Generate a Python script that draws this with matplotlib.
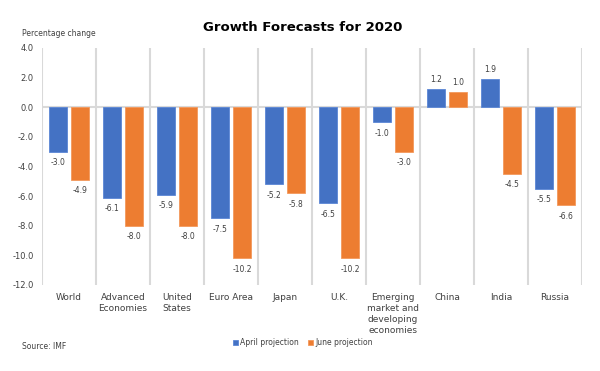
import matplotlib; matplotlib.use("Agg")
import matplotlib.pyplot as plt
import numpy as np

categories = ["World", "Advanced\nEconomies", "United\nStates", "Euro Area", "Japan",
              "U.K.", "Emerging\nmarket and\ndeveloping\neconomies", "China", "India", "Russia"]
april = [-3.0, -6.1, -5.9, -7.5, -5.2, -6.5, -1.0, 1.2, 1.9, -5.5]
june = [-4.9, -8.0, -8.0, -10.2, -5.8, -10.2, -3.0, 1.0, -4.5, -6.6]
yticks = [4.0, 2.0, 0.0, -2.0, -4.0, -6.0, -8.0, -10.0, -12.0]

BLUE = "#4472C4"; ORANGE = "#ED7D31"; GRID = "#D9D9D9"; TXT = "#404040"

fig = plt.figure(figsize=(6, 3.71), dpi=100)
ax = fig.add_axes([0.07, 0.232, 0.90, 0.639])
x = np.arange(len(categories))
w = 0.33
b1 = ax.bar(x - 0.205, april, w, color=BLUE, edgecolor="#5B86D6", lw=0.6, label="April projection", zorder=3)
b2 = ax.bar(x + 0.205, june, w, color=ORANGE, edgecolor="#F3995C", lw=0.6, label="June projection", zorder=3)

for bars, vals in ((b1, april), (b2, june)):
    for r, v in zip(bars, vals):
        cx = r.get_x() + r.get_width() / 2
        if v >= 0:
            ax.text(cx, v + 0.35, f"{v:.1f}", ha="center", va="bottom", fontsize=5.5, color=TXT)
        else:
            ax.text(cx, v - 0.45, f"-{abs(v):.1f}", ha="center", va="top", fontsize=5.5, color=TXT)

ax.set_xlim(-0.5, len(categories) - 0.5)
ax.set_ylim(-12, 4)
ax.set_yticks(yticks)
ax.set_yticklabels([f"{t:.1f}" for t in yticks], fontsize=6, color=TXT)
for b in np.arange(-0.5, len(categories), 1.0):
    ax.axvline(b, color=GRID, lw=1.5, zorder=1)
ax.axhline(0, color=GRID, lw=1.5, zorder=2)
ax.set_xticks(x)
ax.set_xticklabels(categories, fontsize=6.5, color=TXT, va="top", linespacing=1.25)
ax.tick_params(axis="both", length=0, pad=6)
for s in ax.spines.values():
    s.set_visible(False)

fig.text(0.505, 0.927, "Growth Forecasts for 2020", ha="center", va="center",
         fontsize=9.5, fontweight="bold", color="black")
fig.text(0.037, 0.91, "Percentage change", ha="left", va="center", fontsize=5.5, color=TXT)
fig.text(0.037, 0.065, "Source: IMF", ha="left", va="center", fontsize=5.5, color=TXT)
fig.legend(handles=[b1, b2], loc="center", bbox_to_anchor=(0.505, 0.077), ncol=2, frameon=False,
           fontsize=5.5, handlelength=0.6, handleheight=0.6, handletextpad=0.3, columnspacing=1.2,
           labelcolor=TXT)

fig.savefig("out.png", dpi=100, facecolor="white")
